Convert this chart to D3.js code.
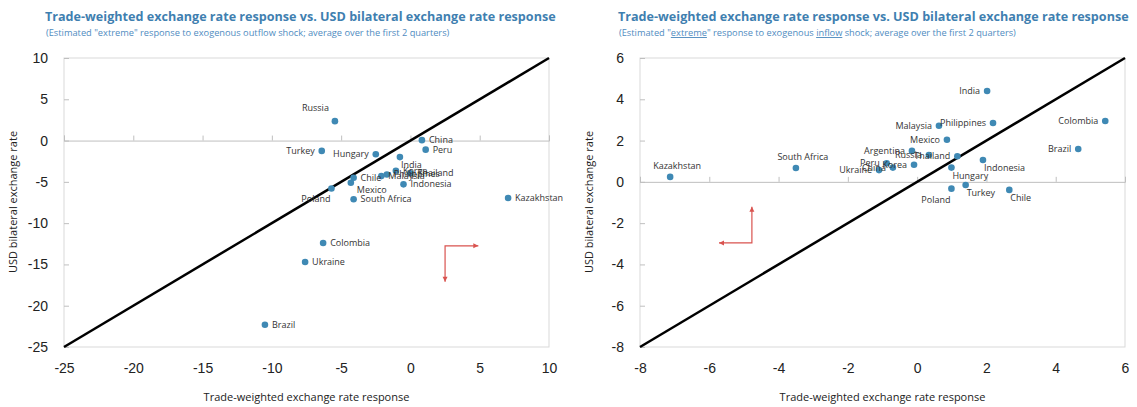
<!DOCTYPE html>
<html>
<head>
<meta charset="utf-8">
<script src="https://cdn.jsdelivr.net/npm/d3@7"></script>
<style>
  body { margin:0; background:#fff; }
  svg { font-family: "Open Sans", "Noto Sans", sans-serif; }
  .title { font-weight:bold; fill:#3f7fb0; font-size:12.6px; }
  .sub { fill:#4f8cbf; font-size:9.25px; }
  .tick text { font-size:14px; fill:#222; }
  .lab { font-size:9px; fill:#333; }
  .axt { font-size:11px; fill:#222; }
</style>
</head>
<body>
<div id="chart"></div>
<script>
// left panel: outflow shock
var leftCountries = ['Russia','China','Peru','Turkey','Hungary','India','Malaysia','Philippines','Korea','Thailand',
  'Chile','Mexico','Poland','South Africa','Indonesia','Kazakhstan','Colombia','Ukraine','Brazil'];
var leftTW  = [-5.45, 0.83, 1.1, -6.4, -2.5, -0.76, -2.1, -1.7, -1.05, 0.0,
  -4.1, -4.3, -5.7, -4.1, -0.5, 7.05, -6.3, -7.6, -10.5];
var leftUSD = [2.35, 0.05, -1.1, -1.25, -1.65, -2.0, -4.3, -4.1, -3.65, -3.95,
  -4.5, -5.1, -5.8, -7.1, -5.3, -6.95, -12.4, -14.7, -22.3];
var leftXTicks = [-25,-20,-15,-10,-5,0,5,10];
var leftYTicks = [-25,-20,-15,-10,-5,0,5,10];

// right panel: inflow shock
var rightCountries = ['India','Philippines','Malaysia','Colombia','Mexico','Brazil','Kazakhstan','South Africa',
  'Argentina','Russia','Thailand','Indonesia','Peru','China','Korea','Ukraine','Hungary','Poland','Turkey','Chile'];
var rightTW  = [2.02, 2.19, 0.63, 5.43, 0.86, 4.65, -7.13, -3.5,
  -0.15, 0.34, 1.16, 1.9, -0.88, -0.7, -0.09, -1.1, 0.99, 0.99, 1.4, 2.66];
var rightUSD = [4.4, 2.85, 2.72, 2.95, 2.04, 1.59, 0.24, 0.67,
  1.5, 1.3, 1.24, 1.06, 0.9, 0.69, 0.83, 0.57, 0.69, -0.33, -0.15, -0.39];
var rightXTicks = [-8,-6,-4,-2,0,2,4,6];
var rightYTicks = [-8,-6,-4,-2,0,2,4,6];

// where each label sits relative to its marker
var leftLabelSide = {Russia:'tl', Turkey:'l', Hungary:'l', India:'br', Mexico:'b', Poland:'bl'};
var rightLabelSide = {India:'l', Philippines:'l', Malaysia:'l', Colombia:'l', Mexico:'l', Brazil:'l',
  Kazakhstan:'t', 'South Africa':'t', Argentina:'l', Russia:'l', Thailand:'l', Indonesia:'br',
  Peru:'l', China:'l', Korea:'l', Ukraine:'l', Hungary:'br', Poland:'bl', Turkey:'br', Chile:'br'};

var svg = d3.select('#chart').append('svg')
  .attr('width',1137).attr('height',407);

function drawPanel(o) {
  var x = d3.scaleLinear().domain(o.xdom).range([o.left, o.right]);
  var y = d3.scaleLinear().domain(o.ydom).range([347, 58]);
  var g = svg.append('g');

  g.append('text').attr('class','title').attr('x',o.tx).attr('y',21).text(o.title);
  var sub = g.append('text').attr('class','sub').attr('x',o.tx+1).attr('y',36);
  o.subParts.forEach(function(p) {
    sub.append('tspan').text(p[0]).style('text-decoration', p[1] ? 'underline' : 'none');
  });

  // plot box
  g.append('rect')
    .attr('x',o.left).attr('y',58)
    .attr('width',o.right-o.left).attr('height',289)
    .style('fill','none').style('stroke','#d9d9d9');

  // y axis on left edge, ticks inside
  var ya = g.append('g').attr('transform','translate('+o.left+',0)')
    .call(d3.axisLeft(y).tickValues(o.yticks).tickSize(-5).tickPadding(16).tickFormat(d3.format('d')));
  ya.select('.domain').remove();
  ya.selectAll('.tick line').style('stroke','#bfbfbf');

  // zero line with ticks pointing up
  var xa = g.append('g').attr('transform','translate(0,'+y(0)+')')
    .call(d3.axisTop(x).tickValues(o.xticks).tickSize(5).tickFormat(''));
  xa.select('.domain').style('stroke','#bfbfbf');
  xa.selectAll('.tick line').style('stroke','#bfbfbf');

  // tick labels along bottom
  var xb = g.append('g').attr('transform','translate(0,347)')
    .call(d3.axisBottom(x).tickValues(o.xticks).tickSize(0).tickPadding(16).tickFormat(d3.format('d')));
  xb.select('.domain').remove();
  xb.selectAll('.tick text').text(function(d){ return d < 0 ? '-' + Math.abs(d) : d; });
  ya.selectAll('.tick text').text(function(d){ return d < 0 ? '-' + Math.abs(d) : d; });

  // 45 degree line
  g.append('line')
    .attr('x1',x(o.xdom[0])).attr('y1',y(o.xdom[0]))
    .attr('x2',x(o.xdom[1])).attr('y2',y(o.xdom[1]))
    .style('stroke','#000').style('stroke-width',2.5);

  var pts = o.names.map(function(n,i){ return {name:n, tw:o.tw[i], usd:o.usd[i]}; });

  g.selectAll('circle.pt').data(pts).enter().append('circle')
    .attr('class','pt')
    .attr('cx',function(d){ return x(d.tw); })
    .attr('cy',function(d){ return y(d.usd); })
    .attr('r',3.3)
    .style('fill','#3f89b4');

  g.selectAll('text.lab').data(pts).enter().append('text')
    .attr('class','lab')
    .each(function(d) {
      var side = o.sides[d.name] || 'r';
      var px = x(d.tw), py = y(d.usd);
      var t = d3.select(this).text(d.name);
      if (side == 'r') t.attr('x',px+7).attr('y',py+3);
      else if (side == 'l') t.attr('x',px-7).attr('y',py+3).attr('text-anchor','end');
      else if (side == 't') t.attr('x',px+7).attr('y',py-8).attr('text-anchor','middle');
      else if (side == 'b') t.attr('x',px+6).attr('y',py+10);
      else if (side == 'br') t.attr('x',px+1).attr('y',py+11);
      else if (side == 'bl') t.attr('x',px-1).attr('y',py+14).attr('text-anchor','end');
      else if (side == 'tl') t.attr('x',px-6).attr('y',py-10).attr('text-anchor','end');
    });

  // axis titles
  g.append('text').attr('class','axt')
    .attr('x',(o.left+o.right)/2).attr('y',401).attr('text-anchor','middle')
    .text('Trade-weighted exchange rate response');
  g.append('text').attr('class','axt')
    .attr('transform','translate('+(o.left-47)+',202) rotate(-90)')
    .attr('text-anchor','middle')
    .text('USD bilateral exchange rate');

  // red direction arrows
  var a = o.arrow;
  var red = '#d9534f';
  g.append('path')
    .attr('d','M'+x(a.hx)+','+y(a.cy)+'L'+x(a.cx)+','+y(a.cy)+'L'+x(a.cx)+','+y(a.vy))
    .style('fill','none').style('stroke',red).style('stroke-width',1.2);
  var hs = x(a.hx) > x(a.cx) ? 1 : -1;
  var vs = y(a.vy) > y(a.cy) ? 1 : -1;
  g.append('path')
    .attr('d','M'+x(a.hx)+','+y(a.cy)+'l'+(-5*hs)+',-2.5l0,5z')
    .style('fill',red);
  g.append('path')
    .attr('d','M'+x(a.cx)+','+y(a.vy)+'l-2.5,'+(-5*vs)+'l5,0z')
    .style('fill',red);
}

drawPanel({
  left:64, right:549, tx:45,
  xdom:[-25,10], ydom:[-25,10], xticks:leftXTicks, yticks:leftYTicks,
  names:leftCountries, tw:leftTW, usd:leftUSD, sides:leftLabelSide,
  title:'Trade-weighted exchange rate response vs. USD bilateral exchange rate response',
  subParts:[['(Estimated "extreme" response to exogenous outflow shock; average over the first 2 quarters)',false]],
  arrow:{cx:2.5, cy:-12.75, hx:4.9, vy:-17.1}
});

drawPanel({
  left:640, right:1125, tx:618,
  xdom:[-8,6], ydom:[-8,6], xticks:rightXTicks, yticks:rightYTicks,
  names:rightCountries, tw:rightTW, usd:rightUSD, sides:rightLabelSide,
  title:'Trade-weighted exchange rate response vs. USD bilateral exchange rate response',
  subParts:[['(Estimated "',false],['extreme',true],['" response to exogenous ',false],['inflow',true],
    [' shock; average over the first 2 quarters)',false]],
  arrow:{cx:-4.77, cy:-2.96, hx:-5.72, vy:-1.2}
});
</script>
</body>
</html>
